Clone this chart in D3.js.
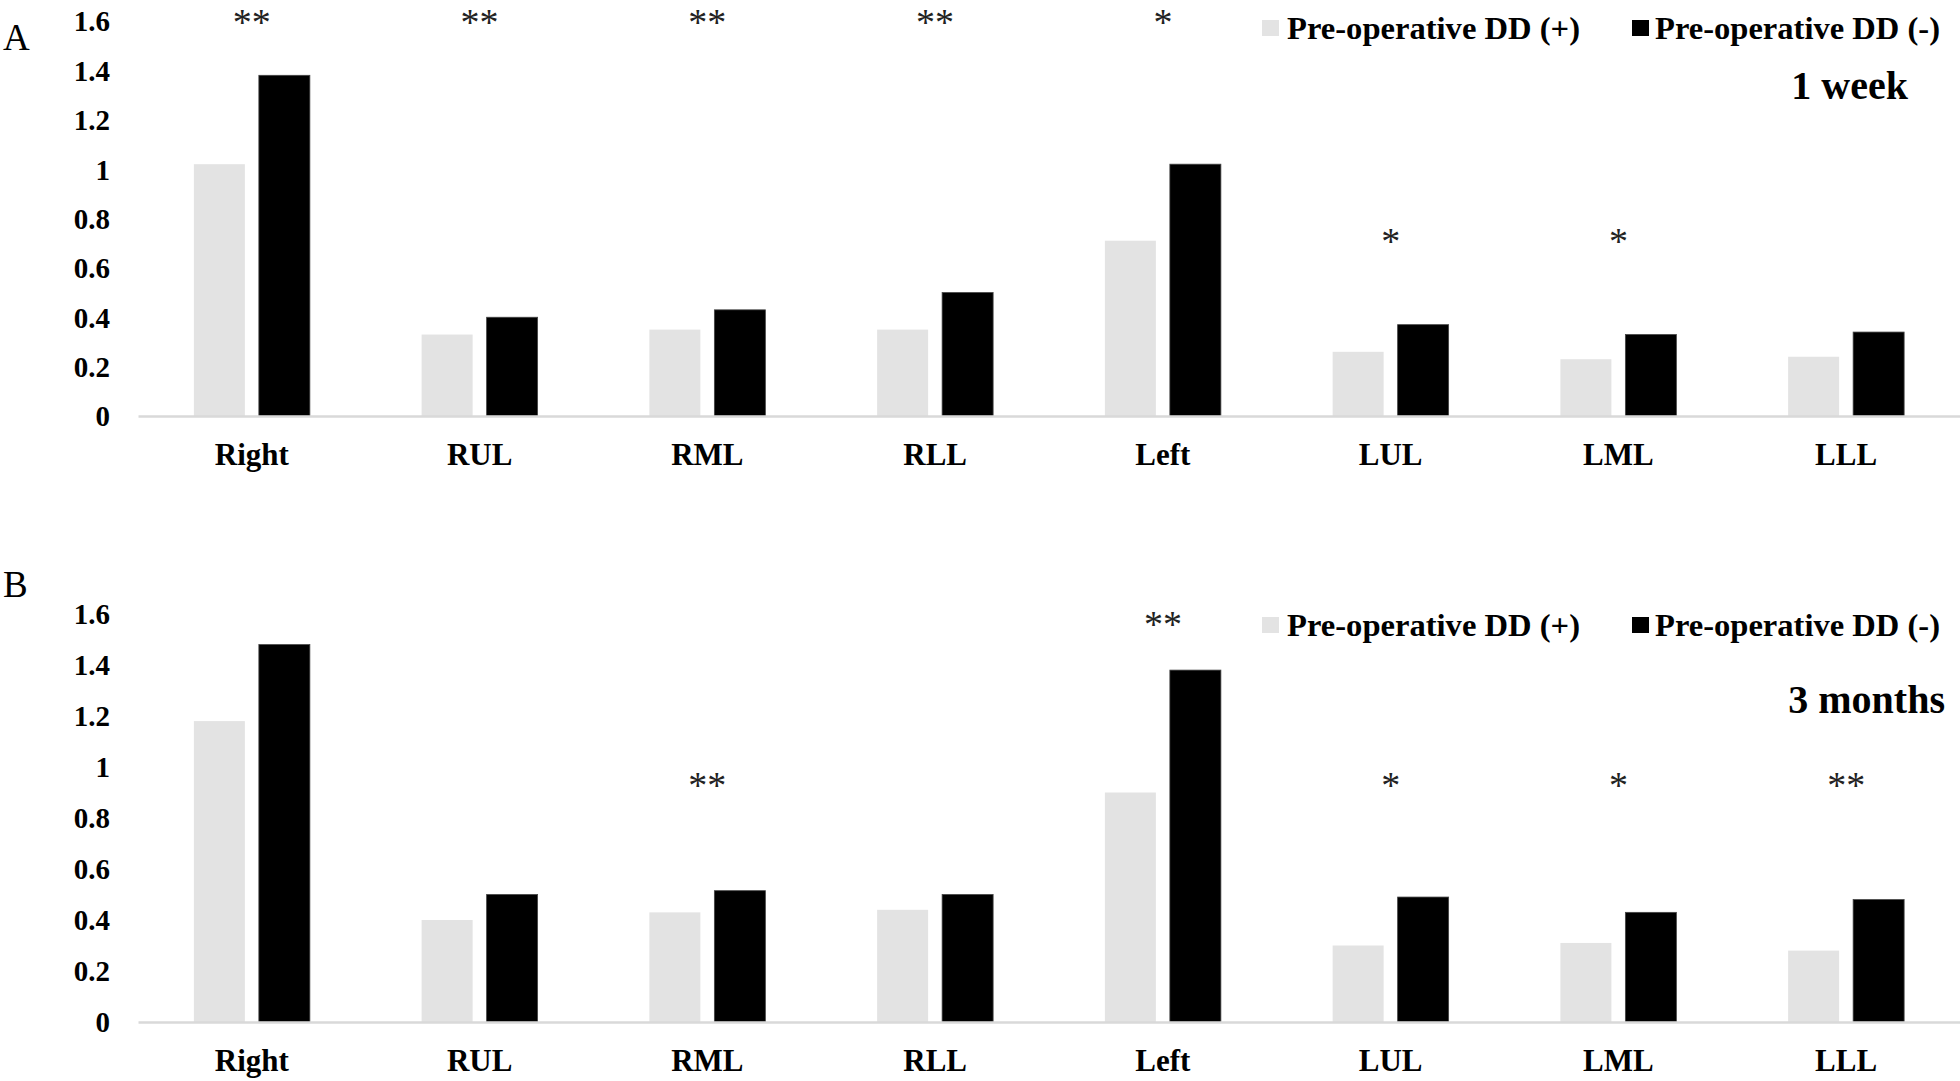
<!DOCTYPE html>
<html>
<head>
<meta charset="utf-8">
<script src="https://cdn.jsdelivr.net/npm/d3@7"></script>
<style>
  html, body { margin: 0; padding: 0; background: #fff; }
  svg { display: block; }
  text { font-family: "Liberation Serif", "Times New Roman", serif; fill: #000; }
</style>
</head>
<body>
<svg id="chart" width="1960" height="1081"></svg>
<script>
// ---------- data ----------
const categories = ["Right", "RUL", "RML", "RLL", "Left", "LUL", "LML", "LLL"];
const seriesNames = ["Pre-operative DD (+)", "Pre-operative DD (-)"];

const week1Plus  = [1.02, 0.33, 0.35, 0.35, 0.71, 0.26, 0.23, 0.24];
const week1Minus = [1.38, 0.40, 0.43, 0.50, 1.02, 0.37, 0.33, 0.34];
const week1Sig      = ["**", "**", "**", "**", "*", "*", "*", ""];
const week1SigLevel = [1.615, 1.615, 1.615, 1.615, 1.615, 0.73, 0.73, 0];

const month3Plus  = [1.18, 0.40, 0.43, 0.44, 0.90, 0.30, 0.31, 0.28];
const month3Minus = [1.48, 0.50, 0.515, 0.50, 1.38, 0.49, 0.43, 0.48];
const month3Sig      = ["", "", "**", "", "**", "*", "*", "**"];
const month3SigLevel = [0, 0, 0.95, 0, 1.58, 0.95, 0.95, 0.95];

const yTickValues = [0, 0.2, 0.4, 0.6, 0.8, 1, 1.2, 1.4, 1.6];
const yTickLabels = ["0", "0.2", "0.4", "0.6", "0.8", "1", "1.2", "1.4", "1.6"];

const panelLetters = ["A", "B"];
const panelTitles = ["1 week", "3 months"];

// ---------- layout ----------
const svg = d3.select("#chart");
const colors = ["#e3e3e3", "#000000"];
const xLeft = 138, xRight = 1960;

const panels = [
  { letter: panelLetters[0], title: panelTitles[0], plus: week1Plus, minus: week1Minus,
    sig: week1Sig, sigLevel: week1SigLevel,
    y0: 416, y1: 21, letterY: 50, legendY: 20, titleX: 1908, titleY: 99 },
  { letter: panelLetters[1], title: panelTitles[1], plus: month3Plus, minus: month3Minus,
    sig: month3Sig, sigLevel: month3SigLevel,
    y0: 1022, y1: 614, letterY: 597, legendY: 617, titleX: 1945, titleY: 713 }
];

const x0 = d3.scaleBand()
  .domain(categories)
  .range([xLeft, xRight])
  .paddingInner(0.4907)
  .paddingOuter(0.2453);

const x1 = d3.scaleBand()
  .domain([0, 1])
  .range([0, x0.bandwidth()])
  .paddingInner(0.2154)
  .paddingOuter(0);

panels.forEach(p => {
  const g = svg.append("g");
  const y = d3.scaleLinear().domain([0, 1.6]).range([p.y0, p.y1]);

  // panel letter
  g.append("text")
    .attr("x", 3).attr("y", p.letterY)
    .style("font-size", "37px")
    .text(p.letter);

  // y axis (labels only)
  const yAxis = g.append("g")
    .attr("transform", `translate(${xLeft},0)`)
    .call(d3.axisLeft(y).tickValues(yTickValues)
      .tickFormat((d, i) => yTickLabels[i]).tickSize(0).tickPadding(28));
  yAxis.select(".domain").remove();
  yAxis.selectAll("text")
    .attr("dy", "0.34em")
    .style("font-family", "'Liberation Serif', 'Times New Roman', serif")
    .style("font-size", "29px").style("font-weight", "bold");

  // bars
  const rows = categories.map((c, i) => ({ cat: c, vals: [p.plus[i], p.minus[i]] }));
  const grp = g.selectAll("g.cat").data(rows).join("g")
    .attr("class", "cat")
    .attr("transform", d => `translate(${x0(d.cat)},0)`);
  grp.selectAll("rect").data(d => d.vals.map((v, k) => ({ v, k }))).join("rect")
    .attr("x", d => x1(d.k))
    .attr("width", x1.bandwidth())
    .attr("y", d => y(d.v))
    .attr("height", d => y(0) - y(d.v))
    .attr("fill", d => colors[d.k])
    .attr("stroke", d => d.k === 1 ? "#444" : "none")
    .attr("stroke-width", 0.8);

  // x axis
  const xAxis = g.append("g")
    .attr("transform", `translate(0,${p.y0})`)
    .call(d3.axisBottom(x0).tickSize(0).tickPadding(27));
  xAxis.select(".domain").attr("stroke", "#d9d9d9").attr("stroke-width", 2.5);
  xAxis.selectAll("text")
    .style("font-family", "'Liberation Serif', 'Times New Roman', serif")
    .style("font-size", "31px").style("font-weight", "bold");

  // significance marks
  g.selectAll("text.sig").data(categories.map((c, i) => ({ cat: c, s: p.sig[i], lv: p.sigLevel[i] })).filter(d => d.s))
    .join("text")
    .attr("class", "sig")
    .attr("x", d => x0(d.cat) + x0.bandwidth() / 2)
    .attr("y", d => y(d.lv))
    .attr("dy", "0.47em")
    .attr("text-anchor", "middle")
    .style("font-size", "38px")
    .style("fill", "#222")
    .text(d => d.s);

  // legend
  const legX = [1262, 1632];
  const legTextX = [1287, 1655];
  const legLen = [293, 285];
  seriesNames.forEach((name, k) => {
    g.append("rect")
      .attr("x", legX[k]).attr("y", p.legendY)
      .attr("width", 17).attr("height", 16)
      .attr("fill", colors[k]);
    g.append("text")
      .attr("x", legTextX[k]).attr("y", p.legendY + 19)
      .attr("textLength", legLen[k]).attr("lengthAdjust", "spacingAndGlyphs")
      .style("font-size", "32px").style("font-weight", "bold")
      .text(name);
  });

  // title
  g.append("text")
    .attr("x", p.titleX).attr("y", p.titleY)
    .attr("text-anchor", "end")
    .style("font-size", "40px").style("font-weight", "bold")
    .text(p.title);
});
</script>
</body>
</html>
